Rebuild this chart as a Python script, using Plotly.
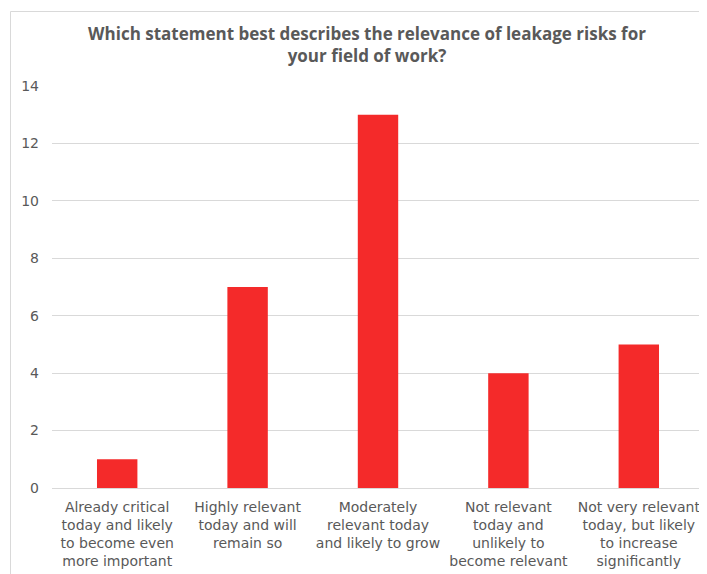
import plotly.graph_objects as go

categories = [
    "Already critical<br>today and likely<br>to become even<br>more important",
    "Highly relevant<br>today and will<br>remain so",
    "Moderately<br>relevant today<br>and likely to grow",
    "Not relevant<br>today and<br>unlikely to<br>become relevant",
    "Not very relevant<br>today, but likely<br>to increase<br>significantly",
]
values = [1, 7, 13, 4, 5]
y_ticks = [0, 2, 4, 6, 8, 10, 12, 14]

# page body has an 8px margin; lay out in screen coordinates minus offset
OFF = 8
W, H = 707 - OFF, 574 - OFF
L = 52 - OFF
R = 707 - 704
T = 86 - OFF
B = 574 - 488
pw, ph = W - L - R, H - T - B

fig = go.Figure(go.Bar(
    x=categories, y=values, marker=dict(color="#F42A2A", line=dict(width=0)),
    width=0.31,
))

def px2x(px):
    return (px - OFF - L) / pw

def py2y(py):
    return (H - B - (py - OFF)) / ph

fig.add_shape(type="rect", xref="paper", yref="paper",
              x0=px2x(10.5), x1=px2x(720), y0=py2y(590), y1=py2y(11.5),
              line=dict(color="#D9D9D9", width=1), fillcolor="rgba(0,0,0,0)", layer="below")

fig.update_layout(
    width=W, height=H,
    margin=dict(l=L, r=R, t=T, b=B, autoexpand=False),
    paper_bgcolor="white", plot_bgcolor="white",
    font=dict(family="DejaVu Sans", color="#595959", size=14),
    title=dict(text="<b>Which statement best describes the relevance of leakage risks for<br>your field of work?</b>",
               x=(367 - OFF) / W, xanchor="center", y=1 - (40 - OFF) / H, yanchor="top",
               font=dict(family="Open Sans", size=17, color="#595959")),
    showlegend=False,
    bargap=0.69,
    xaxis=dict(showgrid=False, showline=True, linecolor="#D9D9D9", linewidth=1, automargin=False,
               ticks="", ticklabelstandoff=6, tickfont=dict(size=14, color="#595959"), tickangle=0),
    yaxis=dict(range=[0, 14], tickvals=y_ticks, showgrid=True, gridcolor="#D9D9D9", gridwidth=1,
               zeroline=False, showline=False, ticks="", ticklabelstandoff=12, automargin=False,
               tickfont=dict(size=14, color="#595959")),
)

fig.write_html("out.html")
